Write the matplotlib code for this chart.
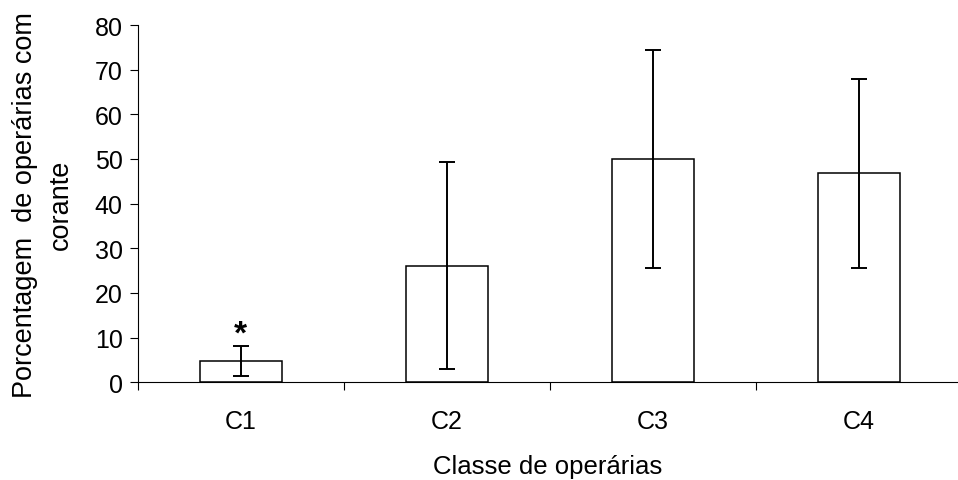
import matplotlib
matplotlib.use("Agg")
import matplotlib.pyplot as plt

plt.rcParams['font.family'] = ['Liberation Sans', 'DejaVu Sans']

# data
classes = ['C1', 'C2', 'C3', 'C4']
percent = [4.7, 26.1, 50.0, 46.8]
sd = [3.4, 23.2, 24.4, 21.2]
signif = ['*', '', '', '']

W, H = 958, 481
fig = plt.figure(figsize=(W / 100, H / 100), dpi=100)
# plot area runs a little past the right border, as in the reference
ax = fig.add_axes([137.7 / W, (H - 383.3) / H, 824 / W, 357.3 / H])

x = list(range(1, len(classes) + 1))
ax.bar(x, percent, width=0.4, color='white', edgecolor='black',
       linewidth=1.1, zorder=2)
ax.errorbar(x, percent, yerr=sd, fmt='none', ecolor='black',
            elinewidth=1.4, capsize=5.8, capthick=1.4, zorder=3)
for xi, p, s, mark in zip(x, percent, sd, signif):
    if mark:
        ax.text(xi, p + s + 2.8, mark, ha='center', va='center',
                fontsize=24, fontweight='bold')

ax.set_xlim(0.5, 4.5)
ax.set_ylim(0, 80)
ax.set_yticks(range(0, 81, 10))
ax.set_xticks(x)
ax.set_xticklabels(classes)
ax.set_xticks([0.5, 1.5, 2.5, 3.5, 4.5], minor=True)

for side in ['top', 'right']:
    ax.spines[side].set_visible(False)
for side in ['left', 'bottom']:
    ax.spines[side].set_linewidth(0.8)

ax.tick_params(axis='y', direction='out', length=5.8, width=0.8,
               labelsize=18, pad=5)
ax.tick_params(axis='x', which='major', length=0, labelsize=18, pad=19)
ax.tick_params(axis='x', which='minor', direction='out', length=5.8,
               width=0.8)

fig.text(547.5 / W, 1 - 474 / H, 'Classe de operárias', ha='center',
         va='baseline', fontsize=18.5)
fig.text(43 / W, 1 - 205 / H, 'Porcentagem  de operárias com\ncorante',
         rotation=90, ha='center', va='center', multialignment='center',
         linespacing=1.45, fontsize=19.5)

fig.savefig('out.png', dpi=100)
